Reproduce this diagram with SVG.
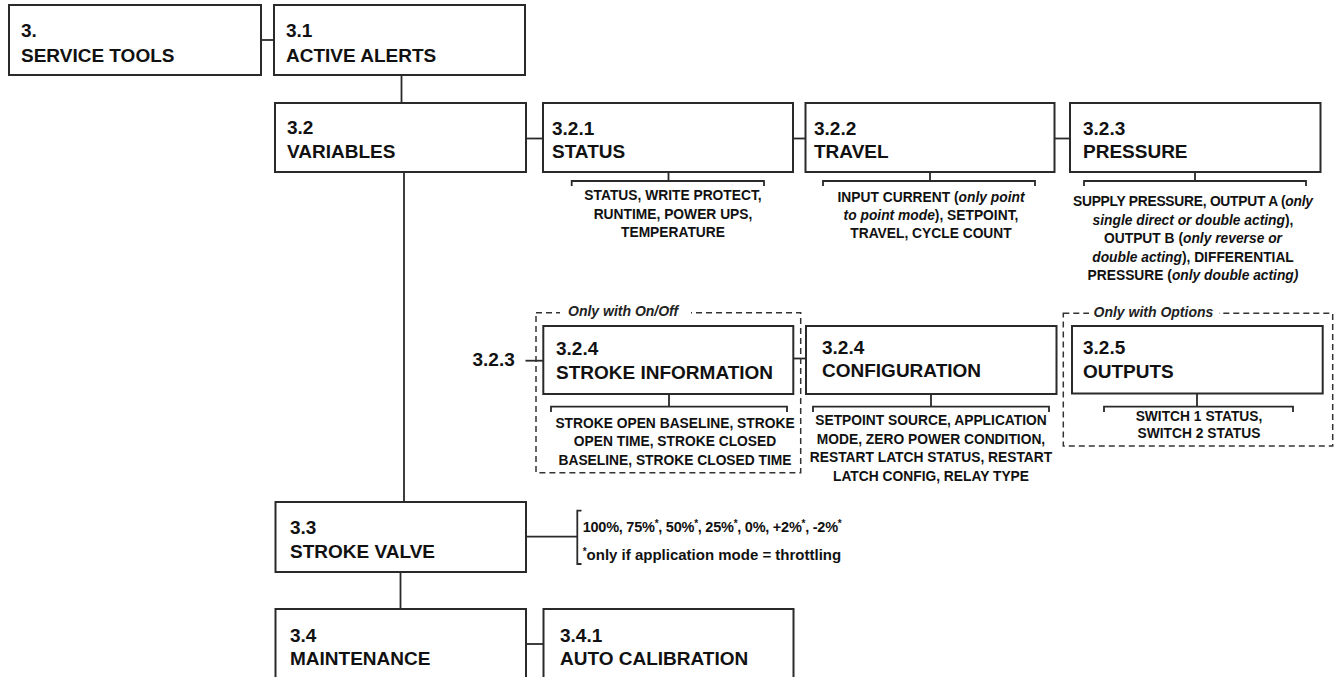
<svg xmlns="http://www.w3.org/2000/svg" width="1337" height="677" viewBox="0 0 1337 677">
<style>
  .box { fill: #fff; stroke: #2a2a2a; stroke-width: 2; }
  .ln { fill: none; stroke: #2a2a2a; stroke-width: 1.8; }
  .dash { fill: none; stroke: #333; stroke-width: 1.5; stroke-dasharray: 6 4; }
  .t { font-family: "Liberation Sans", Arial, sans-serif; font-weight: bold; font-size: 19px; fill: #111; }
  .b { font-family: "Liberation Sans", Arial, sans-serif; font-weight: bold; font-size: 13.8px; fill: #111; text-anchor: middle; }
  .lbl { font-family: "Liberation Sans", Arial, sans-serif; font-weight: bold; font-style: italic; font-size: 14px; fill: #222; }
  .note { font-family: "Liberation Sans", Arial, sans-serif; font-weight: bold; font-size: 14.5px; fill: #111; }
  .i { font-style: italic; }
  .sup { font-size: 10px; }
</style>
<rect width="1337" height="677" fill="#fff"/>

<g id="connectors">
  <path class="ln" d="M261 40 H274"/>
  <path class="ln" d="M401.5 75 V103"/>
  <path class="ln" d="M526 138.5 H543"/>
  <path class="ln" d="M793 138.5 H805.5"/>
  <path class="ln" d="M1054.5 138.5 H1070"/>
  <path class="ln" d="M404 172 V502"/>
  <path class="ln" d="M400.5 572 V609"/>
  <path class="ln" d="M526 644 H543.5"/>
  <path class="ln" d="M793 358.5 H806"/>
  <path class="ln" d="M525.5 360.7 H543"/>
  <path class="ln" d="M526 536.7 H577.3"/>
  <path class="ln" d="M668.5 172 V181 M571.7 186 V181 H764 V186"/>
  <path class="ln" d="M930 172 V181 M823 186 V181 H1035 V186"/>
  <path class="ln" d="M1195 172 V181 M1084 186 V181 H1306 V186"/>
  <path class="ln" d="M669 394 V406.7 M551 412 V406.7 H787 V412"/>
  <path class="ln" d="M931 394 V406.7 M813 412 V406.7 H1049 V412"/>
  <path class="ln" d="M1197 394 V406.7 M1104 412 V406.7 H1293 V412"/>
  <path class="ln" d="M581.5 510.7 H577.3 V564 H581.5"/>
</g>

<g id="group-onoff">
  <rect class="dash" x="536" y="312.7" width="264.7" height="160"/>
  <rect x="560" y="304" width="131" height="16" fill="#fff"/>
  <text class="lbl" x="568" y="315.5">Only with On/Off</text>
</g>
<g id="group-options">
  <rect class="dash" x="1063.3" y="313.3" width="269.4" height="132.7"/>
  <rect x="1089" y="305" width="130" height="16" fill="#fff"/>
  <text class="lbl" x="1093.5" y="317">Only with Options</text>
</g>

<g id="n3">
  <rect class="box" x="9" y="5" width="252" height="70"/>
  <text class="t" x="21" y="37">3.</text>
  <text class="t" x="21" y="61.5">SERVICE TOOLS</text>
</g>
<g id="n3-1">
  <rect class="box" x="274" y="5" width="251" height="70"/>
  <text class="t" x="286" y="37">3.1</text>
  <text class="t" x="286" y="61.5">ACTIVE ALERTS</text>
</g>
<g id="n3-2">
  <rect class="box" x="275" y="103" width="251" height="69"/>
  <text class="t" x="287" y="134">3.2</text>
  <text class="t" x="287" y="158">VARIABLES</text>
</g>
<g id="n3-2-1">
  <rect class="box" x="543" y="103" width="250" height="69"/>
  <text class="t" x="552" y="135">3.2.1</text>
  <text class="t" x="552" y="158">STATUS</text>
  <text class="b" x="673" y="200">STATUS, WRITE PROTECT,</text>
  <text class="b" x="673" y="218.5">RUNTIME, POWER UPS,</text>
  <text class="b" x="673" y="237">TEMPERATURE</text>
</g>
<g id="n3-2-2">
  <rect class="box" x="805.5" y="103" width="249" height="69"/>
  <text class="t" x="814" y="135">3.2.2</text>
  <text class="t" x="814" y="158">TRAVEL</text>
  <text class="b" x="931" y="201.7">INPUT CURRENT (<tspan class="i">only point</tspan></text>
  <text class="b" x="931" y="220"><tspan class="i">to point mode</tspan>), SETPOINT,</text>
  <text class="b" x="931" y="238.3">TRAVEL, CYCLE COUNT</text>
</g>
<g id="n3-2-3">
  <rect class="box" x="1070" y="103" width="250.5" height="69"/>
  <text class="t" x="1083" y="135">3.2.3</text>
  <text class="t" x="1083" y="158">PRESSURE</text>
  <text class="b" x="1193" y="206" textLength="240">SUPPLY PRESSURE, OUTPUT A (<tspan class="i">only</tspan></text>
  <text class="b" x="1193" y="224.5"><tspan class="i">single direct or double acting</tspan>),</text>
  <text class="b" x="1193" y="243">OUTPUT B (<tspan class="i">only reverse or</tspan></text>
  <text class="b" x="1193" y="261.5"><tspan class="i">double acting</tspan>), DIFFERENTIAL</text>
  <text class="b" x="1193" y="280">PRESSURE (<tspan class="i">only double acting)</tspan></text>
</g>
<g id="ref-3-2-3">
  <text class="t" x="472.5" y="366">3.2.3</text>
</g>
<g id="n3-2-4-stroke">
  <rect class="box" x="543.3" y="326" width="250" height="68"/>
  <text class="t" x="556" y="355">3.2.4</text>
  <text class="t" x="556" y="379">STROKE INFORMATION</text>
  <text class="b" x="675" y="427.5">STROKE OPEN BASELINE, STROKE</text>
  <text class="b" x="675" y="446">OPEN TIME, STROKE CLOSED</text>
  <text class="b" x="675" y="464.5">BASELINE, STROKE CLOSED TIME</text>
</g>
<g id="n3-2-4-config">
  <rect class="box" x="806" y="326" width="250.5" height="68"/>
  <text class="t" x="822" y="353.5">3.2.4</text>
  <text class="t" x="822" y="377">CONFIGURATION</text>
  <text class="b" x="931" y="425">SETPOINT SOURCE, APPLICATION</text>
  <text class="b" x="931" y="443.7">MODE, ZERO POWER CONDITION,</text>
  <text class="b" x="931" y="462.3">RESTART LATCH STATUS, RESTART</text>
  <text class="b" x="931" y="481">LATCH CONFIG, RELAY TYPE</text>
</g>
<g id="n3-2-5">
  <rect class="box" x="1072" y="326" width="250.7" height="67.5"/>
  <text class="t" x="1083" y="353.5">3.2.5</text>
  <text class="t" x="1083" y="378">OUTPUTS</text>
  <text class="b" x="1199" y="420.7">SWITCH 1 STATUS,</text>
  <text class="b" x="1199" y="438.3">SWITCH 2 STATUS</text>
</g>
<g id="n3-3">
  <rect class="box" x="275.5" y="502" width="250.5" height="70"/>
  <text class="t" x="290" y="533.5">3.3</text>
  <text class="t" x="290" y="558">STROKE VALVE</text>
  <text class="note" x="582.7" y="531.7" textLength="259" lengthAdjust="spacing">100%, 75%<tspan class="sup" dy="-5">*</tspan><tspan dy="5">, 50%</tspan><tspan class="sup" dy="-5">*</tspan><tspan dy="5">, 25%</tspan><tspan class="sup" dy="-5">*</tspan><tspan dy="5">, 0%, +2%</tspan><tspan class="sup" dy="-5">*</tspan><tspan dy="5">, -2%</tspan><tspan class="sup" dy="-5">*</tspan></text>
  <text class="note" x="582.7" y="560" style="font-size:15px"><tspan class="sup" dy="-5">*</tspan><tspan dy="5">only if application mode = throttling</tspan></text>
</g>
<g id="n3-4">
  <rect class="box" x="275.5" y="609" width="250.5" height="100"/>
  <text class="t" x="290" y="641.5">3.4</text>
  <text class="t" x="290" y="665">MAINTENANCE</text>
</g>
<g id="n3-4-1">
  <rect class="box" x="543.5" y="609" width="250" height="100"/>
  <text class="t" x="560" y="641.5">3.4.1</text>
  <text class="t" x="560" y="665">AUTO CALIBRATION</text>
</g>
</svg>
